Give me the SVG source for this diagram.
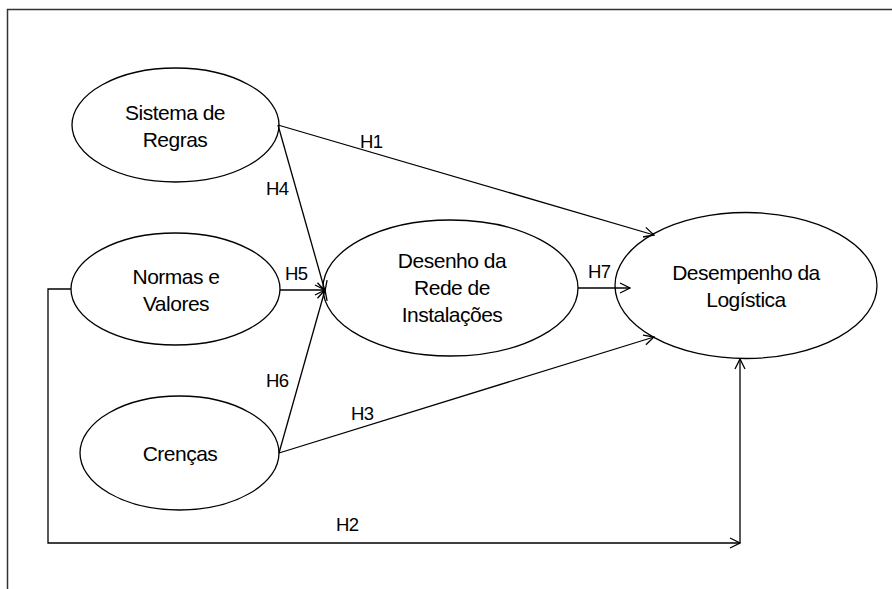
<svg xmlns="http://www.w3.org/2000/svg" width="892" height="589" viewBox="0 0 892 589">
<style>
.node ellipse{fill:#fff;stroke:#000;stroke-width:1.3}
.node text{font-family:"Liberation Sans",Arial,sans-serif;font-size:21px;fill:#000;text-anchor:middle;letter-spacing:-0.5px}
.lbl{font-family:"Liberation Sans",Arial,sans-serif;font-size:18.5px;fill:#000;letter-spacing:-0.5px}
.edge{fill:none;stroke:#000;stroke-width:1.3}
</style>
<defs>
<marker id="arr" viewBox="0 0 12 12" refX="11" refY="6" markerWidth="12" markerHeight="12" markerUnits="userSpaceOnUse" orient="auto">
<path d="M1,1 L11,6 L1,11" fill="none" stroke="#000" stroke-width="1.3"/>
</marker>
</defs>
<rect width="892" height="589" fill="#fff"/>
<path d="M7.5,589 V9.5 H892" fill="none" stroke="#333" stroke-width="1.5"/>
<g id="sistema" class="node">
<ellipse cx="175.5" cy="125" rx="103.5" ry="57"/>
<text x="175" y="120">Sistema de</text>
<text x="175" y="147">Regras</text>
</g>
<g id="normas" class="node">
<ellipse cx="175.5" cy="289" rx="104.5" ry="56"/>
<text x="176" y="284">Normas e</text>
<text x="176" y="311">Valores</text>
</g>
<g id="crencas" class="node">
<ellipse cx="179.5" cy="453" rx="99.5" ry="57"/>
<text x="180" y="461">Crenças</text>
</g>
<g id="desenho" class="node">
<ellipse cx="450.5" cy="288" rx="127.5" ry="68"/>
<text x="452" y="268">Desenho da</text>
<text x="452" y="295">Rede de</text>
<text x="452" y="322">Instalações</text>
</g>
<g id="desempenho" class="node">
<ellipse cx="746" cy="285.5" rx="131" ry="73"/>
<text x="746" y="280">Desempenho da</text>
<text x="746" y="307">Logística</text>
</g>
<g id="connectors">
<line class="edge" x1="278" y1="125" x2="654" y2="235" marker-end="url(#arr)"/>
<line class="edge" x1="278" y1="125" x2="325" y2="291" marker-end="url(#arr)"/>
<line class="edge" x1="280" y1="290" x2="325" y2="290" marker-end="url(#arr)"/>
<line class="edge" x1="279" y1="453" x2="325" y2="290" marker-end="url(#arr)"/>
<line class="edge" x1="279" y1="453" x2="654" y2="337" marker-end="url(#arr)"/>
<line class="edge" x1="578" y1="288" x2="630" y2="288" marker-end="url(#arr)"/>
<path class="edge" d="M71,289 H48 V543 H740" marker-end="url(#arr)"/>
<line class="edge" x1="740" y1="543" x2="740" y2="359" marker-end="url(#arr)"/>
<text class="lbl" x="360" y="148">H1</text>
<text class="lbl" x="266" y="195">H4</text>
<text class="lbl" x="285" y="280">H5</text>
<text class="lbl" x="266" y="387">H6</text>
<text class="lbl" x="351" y="420">H3</text>
<text class="lbl" x="588" y="278">H7</text>
<text class="lbl" x="336" y="531">H2</text>
</g>
</svg>
